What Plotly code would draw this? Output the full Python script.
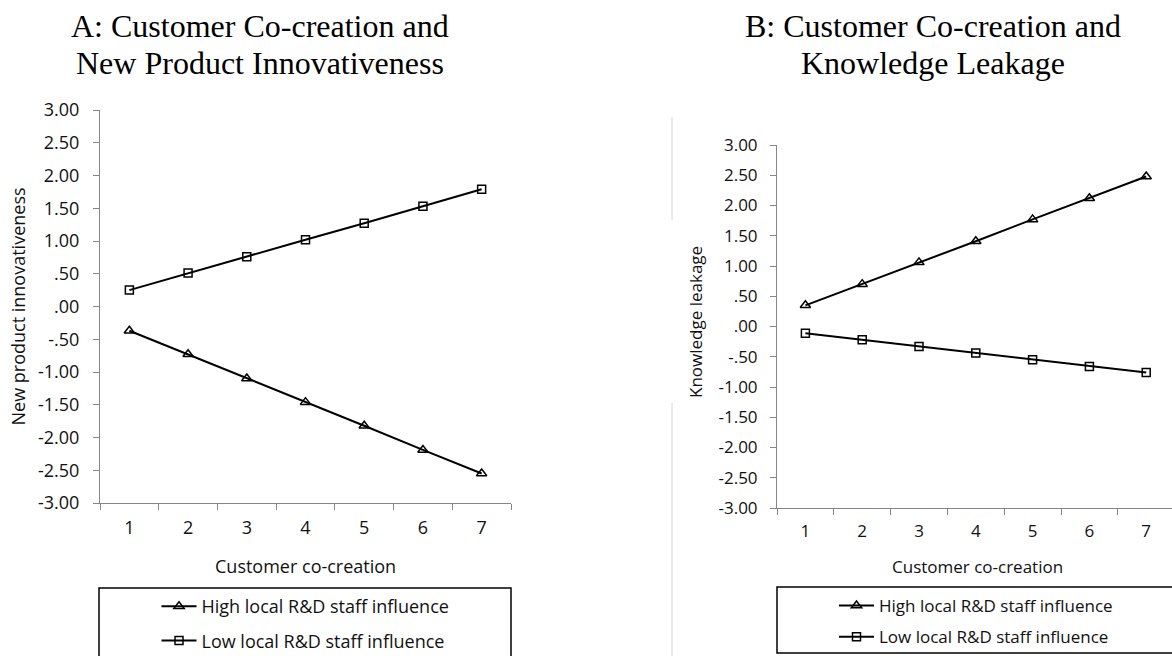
import plotly.graph_objects as go

W, H = 1172, 656

# ---------------- data ----------------
x_vals = [1, 2, 3, 4, 5, 6, 7]
x_labels = ["1", "2", "3", "4", "5", "6", "7"]

a_high = [-0.37, -0.73, -1.10, -1.46, -1.82, -2.19, -2.55]
a_low = [0.25, 0.51, 0.76, 1.02, 1.27, 1.53, 1.79]

b_high = [0.35, 0.70, 1.06, 1.41, 1.77, 2.12, 2.48]
b_low = [-0.11, -0.22, -0.33, -0.44, -0.55, -0.66, -0.76]

y_ticks = [3.0, 2.5, 2.0, 1.5, 1.0, 0.5, 0.0, -0.5, -1.0, -1.5, -2.0, -2.5, -3.0]
y_ticklabels = ["3.00", "2.50", "2.00", "1.50", "1.00", ".50", ".00", "-.50",
                "-1.00", "-1.50", "-2.00", "-2.50", "-3.00"]

name_high = "High local R&D staff influence"
name_low = "Low local R&D staff influence"

title_a = ["A: Customer Co-creation and", "New Product Innovativeness"]
title_b = ["B: Customer Co-creation and", "Knowledge Leakage"]
xlab = "Customer co-creation"
ylab_a = "New product innovativeness"
ylab_b = "Knowledge leakage"

# ---------------- helpers ----------------
def px(x):
    return x / W

def py(y):
    return 1 - y / H

SANS = "Open Sans"
SERIF = "Liberation Serif"
AXC = "#868686"
TXT = "#111111"

fig = go.Figure()

def add_series(xa, ya, high, low, legend, msize):
    fig.add_trace(go.Scatter(
        x=x_vals, y=high, name=name_high, mode="lines+markers",
        xaxis=xa, yaxis=ya, legend=legend, legendgroup=legend + "h",
        line=dict(color="black", width=2),
        marker=dict(symbol="triangle-up-open", size=msize + 1, color="black",
                    line=dict(width=1.5, color="black")),
    ))
    fig.add_trace(go.Scatter(
        x=x_vals, y=low, name=name_low, mode="lines+markers",
        xaxis=xa, yaxis=ya, legend=legend, legendgroup=legend + "l",
        line=dict(color="black", width=2),
        marker=dict(symbol="square-open", size=msize, color="black",
                    line=dict(width=1.5, color="black")),
    ))

add_series("x", "y", a_high, a_low, "legend", 8)
add_series("x2", "y2", b_high, b_low, "legend2", 8)

def xaxis_cfg(domain, rng, fs, standoff):
    return dict(
        domain=domain, range=rng, type="linear",
        tickmode="array", tickvals=x_vals, ticktext=x_labels,
        ticks="", showgrid=False, zeroline=False,
        showline=True, linecolor=AXC, linewidth=1,
        tickfont=dict(family=SANS, size=fs, color=TXT),
        ticklabelstandoff=standoff,
        minor=dict(ticks="outside", tick0=0.5, dtick=1, ticklen=6,
                   tickcolor=AXC, tickwidth=1, showgrid=False),
        fixedrange=True,
    )

def yaxis_cfg(domain, anchor, fs, standoff):
    return dict(
        domain=domain, range=[-3, 3], anchor=anchor,
        tickmode="array", tickvals=y_ticks, ticktext=y_ticklabels,
        ticks="outside", ticklen=6, tickcolor=AXC, tickwidth=1,
        showgrid=False, zeroline=False,
        showline=True, linecolor=AXC, linewidth=1,
        tickfont=dict(family=SANS, size=fs, color=TXT),
        ticklabelstandoff=standoff,
        fixedrange=True,
    )

# Panel A geometry (pixels)
ax0, ax1, ay0, ay1 = 100, 511, 110, 503
# Panel B geometry
bx0, bcat, by0, by1 = 777, 56.8, 145, 508
b_right = 0.5 + (W - bx0) / bcat

fig.update_layout(
    width=W, height=H,
    margin=dict(l=0, r=0, t=0, b=0, pad=0, autoexpand=False),
    paper_bgcolor="white", plot_bgcolor="white",
    xaxis=dict(**xaxis_cfg([px(ax0), px(ax1)], [0.5, 7.5], 18, 8), anchor="y"),
    yaxis=yaxis_cfg([py(ay1), py(ay0)], "x", 18, 10),
    xaxis2=dict(**xaxis_cfg([px(bx0), 1.0], [0.5, b_right], 17, 8), anchor="y2"),
    yaxis2=yaxis_cfg([py(by1), py(by0)], "x2", 17, 9),
    legend=dict(
        x=px((ax0 + ax1) / 2), xanchor="center", y=py(588), yanchor="top",
        orientation="v", traceorder="grouped", tracegroupgap=8,
        bgcolor="rgba(0,0,0,0)", borderwidth=0, itemwidth=35,
        font=dict(family=SANS, size=18, color=TXT),
    ),
    legend2=dict(
        x=px(976), xanchor="center", y=py(588), yanchor="top",
        orientation="v", traceorder="grouped", tracegroupgap=6,
        bgcolor="rgba(0,0,0,0)", borderwidth=0, itemwidth=35,
        font=dict(family=SANS, size=17, color=TXT),
    ),
    showlegend=True,
)

annotations = []
# titles
for txt, yy in zip(title_a, [26, 63]):
    annotations.append(dict(text=txt, x=px(260), y=py(yy), xref="paper", yref="paper",
                            xanchor="center", yanchor="middle", showarrow=False,
                            font=dict(family=SERIF, size=32, color="black")))
for txt, yy in zip(title_b, [26, 63]):
    annotations.append(dict(text=txt, x=px(933), y=py(yy), xref="paper", yref="paper",
                            xanchor="center", yanchor="middle", showarrow=False,
                            font=dict(family=SERIF, size=32, color="black")))
# axis titles
annotations.append(dict(text=xlab, x=px((ax0 + ax1) / 2), y=py(566), xref="paper", yref="paper",
                        xanchor="center", yanchor="middle", showarrow=False,
                        font=dict(family=SANS, size=18, color=TXT)))
annotations.append(dict(text=xlab, x=px(977), y=py(566), xref="paper", yref="paper",
                        xanchor="center", yanchor="middle", showarrow=False,
                        font=dict(family=SANS, size=17, color=TXT)))
annotations.append(dict(text=ylab_a, x=px(17), y=py((ay0 + ay1) / 2), xref="paper", yref="paper",
                        xanchor="center", yanchor="middle", showarrow=False, textangle=-90,
                        font=dict(family=SANS, size=18, color=TXT)))
annotations.append(dict(text=ylab_b, x=px(695), y=py(322), xref="paper", yref="paper",
                        xanchor="center", yanchor="middle", showarrow=False, textangle=-90,
                        font=dict(family=SANS, size=17, color=TXT)))
fig.update_layout(annotations=annotations)

shapes = [
    # legend boxes
    dict(type="rect", xref="paper", yref="paper", x0=px(99), x1=px(511), y0=py(672), y1=py(588),
         line=dict(color="black", width=1.5), fillcolor="rgba(0,0,0,0)", layer="below"),
    dict(type="rect", xref="paper", yref="paper", x0=px(777), x1=px(1185), y0=py(653), y1=py(587),
         line=dict(color="black", width=1.5), fillcolor="rgba(0,0,0,0)", layer="below"),
    # faint frame line of panel B
    dict(type="line", xref="paper", yref="paper", x0=px(672), x1=px(672), y0=py(117), y1=py(220),
         line=dict(color="#d4d4d4", width=1)),
    dict(type="line", xref="paper", yref="paper", x0=px(672), x1=px(672), y0=py(403), y1=py(660),
         line=dict(color="#d4d4d4", width=1)),
]
fig.update_layout(shapes=shapes)

fig.write_html("out.html", config={"displayModeBar": False})
